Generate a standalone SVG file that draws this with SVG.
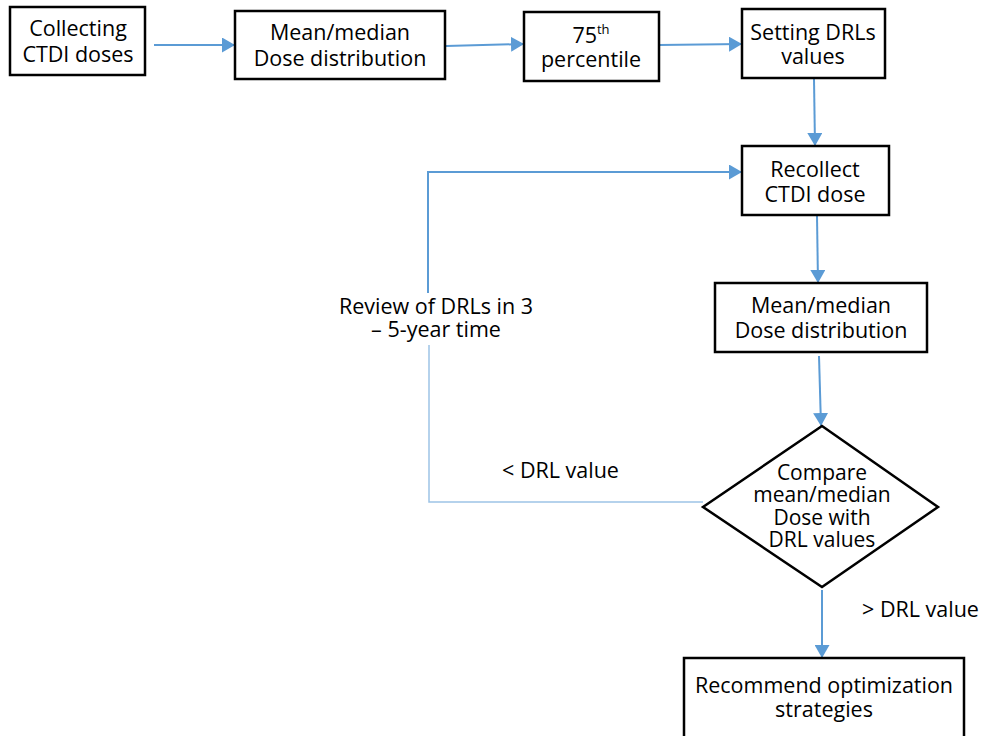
<svg xmlns="http://www.w3.org/2000/svg" width="982" height="736" viewBox="0 0 982 736">
  <style>
    .box { fill: #ffffff; stroke: #000000; stroke-width: 2.5; }
    .lbl { font-family: "Open Sans", "Noto Sans", sans-serif; font-size: 21.5px; fill: #000000; text-anchor: middle; }
    .dia { font-family: "Open Sans", "Noto Sans", sans-serif; font-size: 21px; fill: #000000; text-anchor: middle; }
    .note { font-family: "Open Sans", "Noto Sans", sans-serif; font-size: 21.5px; fill: #000000; }
    .flow { fill: none; stroke: #5B9BD5; stroke-width: 2; }
    .thin { fill: none; stroke: #9DC3E6; stroke-width: 1.5; }
  </style>
  <defs>
    <marker id="head" viewBox="0 0 13 15" refX="13" refY="7.5" markerWidth="13" markerHeight="15" markerUnits="userSpaceOnUse" orient="auto">
      <path d="M0,0 L13,7.5 L0,15 Z" fill="#5B9BD5"/>
    </marker>
  </defs>

  <rect width="982" height="736" fill="#ffffff"/>

  <!-- connectors -->
  <g id="connectors">
    <line class="flow" x1="154" y1="45" x2="235" y2="45" marker-end="url(#head)"/>
    <line class="flow" x1="446" y1="46" x2="524" y2="44" marker-end="url(#head)"/>
    <line class="flow" x1="659" y1="45" x2="742" y2="44" marker-end="url(#head)"/>
    <line class="flow" x1="814" y1="79" x2="815" y2="146" marker-end="url(#head)"/>
    <line class="flow" x1="817" y1="216" x2="818" y2="283" marker-end="url(#head)"/>
    <line class="flow" x1="819" y1="356" x2="821" y2="426" marker-end="url(#head)"/>
    <line class="flow" x1="822" y1="590" x2="822" y2="658" marker-end="url(#head)"/>
    <!-- review loop back to recollection -->
    <polyline class="flow" points="428,293 428,172 742,172" marker-end="url(#head)"/>
    <polyline class="thin" points="703,502 429,502 429,345"/>
  </g>

  <!-- nodes -->
  <g id="collect">
    <rect class="box" x="10" y="7" width="135" height="68"/>
    <text class="lbl" x="78" y="36">Collecting</text>
    <text class="lbl" x="78" y="62">CTDI doses</text>
  </g>
  <g id="distribution">
    <rect class="box" x="235" y="11" width="210" height="68"/>
    <text class="lbl" x="340" y="40">Mean/median</text>
    <text class="lbl" x="340" y="66">Dose distribution</text>
  </g>
  <g id="percentile">
    <rect class="box" x="524" y="12" width="135" height="69"/>
    <text class="lbl" x="591" y="43">75<tspan font-size="13" dy="-9">th</tspan></text>
    <text class="lbl" x="591" y="67">percentile</text>
  </g>
  <g id="setting">
    <rect class="box" x="742" y="9" width="143" height="69"/>
    <text class="lbl" x="813" y="40">Setting DRLs</text>
    <text class="lbl" x="813" y="64">values</text>
  </g>
  <g id="recollect">
    <rect class="box" x="742" y="146" width="147" height="69"/>
    <text class="lbl" x="815" y="177">Recollect</text>
    <text class="lbl" x="815" y="202">CTDI dose</text>
  </g>
  <g id="distribution2">
    <rect class="box" x="715" y="283" width="212" height="69"/>
    <text class="lbl" x="821" y="313">Mean/median</text>
    <text class="lbl" x="821" y="338">Dose distribution</text>
  </g>
  <g id="compare">
    <polygon class="box" points="822,426 938,507 822,587 703,507"/>
    <text class="dia" x="822" y="480">Compare</text>
    <text class="dia" x="822" y="502">mean/median</text>
    <text class="dia" x="822" y="525">Dose with</text>
    <text class="dia" x="822" y="547">DRL values</text>
  </g>
  <g id="recommend">
    <rect class="box" x="684" y="658" width="280" height="80"/>
    <text class="lbl" x="824" y="693">Recommend optimization</text>
    <text class="lbl" x="824" y="717">strategies</text>
  </g>

  <!-- branch labels -->
  <g id="labels">
    <text class="lbl" x="436" y="314">Review of DRLs in 3</text>
    <text class="lbl" x="436" y="337">– 5-year time</text>
    <text class="note" x="502" y="478">&lt; DRL value</text>
    <text class="note" x="862" y="617">&gt; DRL value</text>
  </g>
</svg>
